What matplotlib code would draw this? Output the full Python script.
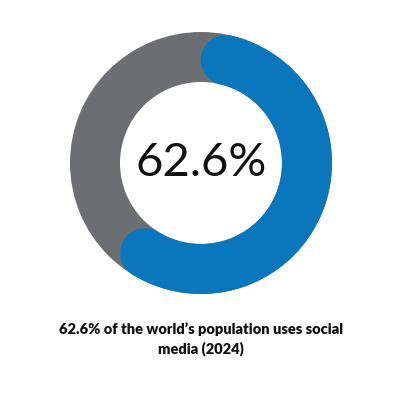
import numpy as np
import matplotlib.pyplot as plt
from matplotlib.patches import Wedge

# data
share_pct = 62.6
center_label = "62.6%"
caption = "62.6% of the world\u2019s population uses social\nmedia (2024)"

BLUE = "#0a77bd"
GRAY = "#6d6e71"

fig = plt.figure(figsize=(4, 4), dpi=100)
ax = fig.add_axes([0, 0, 1, 1])
ax.set_xlim(0, 400)
ax.set_ylim(400, 0)
ax.set_aspect("equal")
ax.axis("off")

cx, cy, r_out, width = 201, 163, 131, 50
r_mid = r_out - width / 2

# gray track
ax.add_patch(Wedge((cx, cy), r_out, 0, 360, width=width, color=GRAY, lw=0))

# blue arc, clockwise from top; round caps kept inside the span
cap = np.degrees((width / 2) / r_mid)
start = -90.0
end = start + 360 * share_pct / 100
theta = np.radians(np.linspace(start + cap, end - cap, 300))
ax.plot(cx + r_mid * np.cos(theta), cy + r_mid * np.sin(theta),
        color=BLUE, lw=width * 72 / 100, solid_capstyle="round")

ax.text(cx, cy, center_label, ha="center", va="center", fontsize=34,
        family="Lato", fontweight="normal", color="#111111")
ax.text(cx, 339, caption, ha="center", va="center", fontsize=10.5,
        family="Lato", fontweight="heavy", color="#111111", linespacing=1.5)

fig.savefig("out.png", dpi=100)
